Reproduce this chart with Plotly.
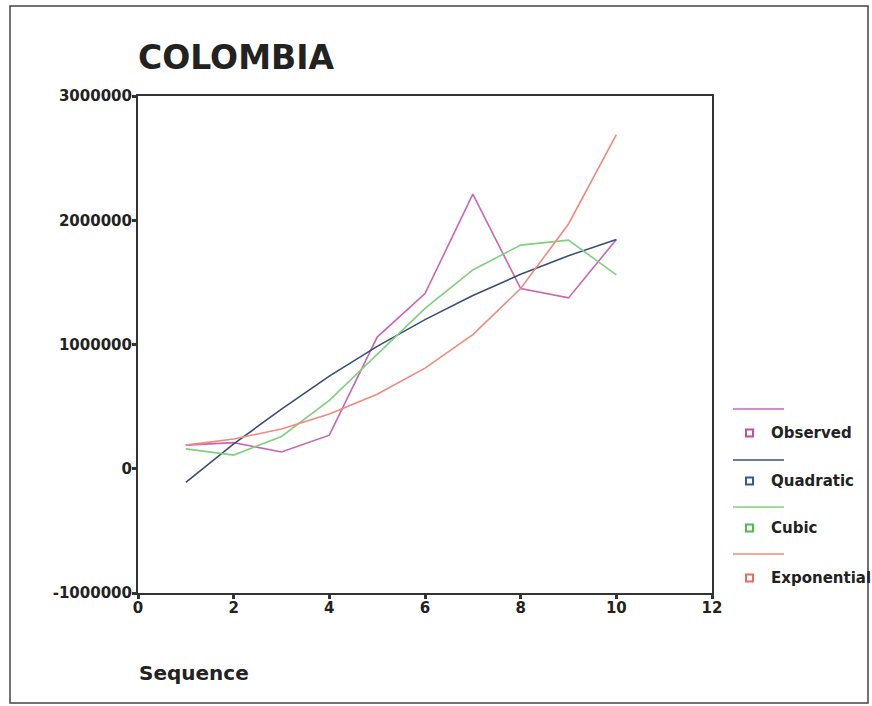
import plotly.graph_objects as go

# ---- data ----
sequence = [1, 2, 3, 4, 5, 6, 7, 8, 9, 10]
observed = [190000, 210000, 135000, 270000, 1060000, 1410000, 2210000, 1450000, 1375000, 1845000]
quadratic = [-110000, 200000, 480000, 745000, 985000, 1200000, 1395000, 1565000, 1715000, 1845000]
cubic = [160000, 110000, 260000, 550000, 920000, 1290000, 1600000, 1800000, 1840000, 1560000]
exponential = [190000, 240000, 320000, 440000, 600000, 810000, 1080000, 1450000, 1970000, 2690000]

series_names = ["Observed", "Quadratic", "Cubic", "Exponential"]
line_colors = ["#c866b4", "#3c4c78", "#7fd07f", "#f08a7a"]
marker_colors = ["#c0509a", "#2f5a9a", "#4cbc4c", "#ec6a5a"]

x_ticks = [0, 2, 4, 6, 8, 10, 12]
y_ticks = [-1000000, 0, 1000000, 2000000, 3000000]
y_ticktext = ["-1000000", "0", "1000000", "2000000", "3000000"]

W, H = 872, 706
L, R, T, B = 138, 712, 96, 593  # plot area in pixels


def px(xp):
    return (xp - L) / (R - L)


def py(yp):
    return (B - yp) / (B - T)


fig = go.Figure()
for name, vals, col in zip(series_names, [observed, quadratic, cubic, exponential], line_colors):
    fig.add_trace(go.Scatter(x=sequence, y=vals, mode="lines", name=name,
                             line=dict(color=col, width=1.6), showlegend=False))

font_bold = "DejaVu Sans"
axis_font = dict(family=font_bold, size=15, color="#222", weight="bold")

fig.update_layout(
    width=W, height=H,
    margin=dict(l=L, r=W - R, t=T, b=H - B),
    paper_bgcolor="white", plot_bgcolor="white",
    xaxis=dict(range=[0, 12], tickvals=x_ticks, ticktext=[str(v) for v in x_ticks],
               showgrid=False, zeroline=False, showline=True, mirror=True,
               linecolor="#333", linewidth=2, ticks="outside", ticklen=4, tickwidth=3,
               tickcolor="#333", tickfont=axis_font, ticklabelstandoff=-4),
    yaxis=dict(range=[-1000000, 3000000], tickvals=y_ticks, ticktext=y_ticktext,
               showgrid=False, zeroline=False, showline=True, mirror=True,
               linecolor="#333", linewidth=2, ticks="outside", ticklen=4, tickwidth=3,
               tickcolor="#333", tickfont=axis_font, ticklabelstandoff=-3),
)

shapes = []
annotations = []
# outer frame
shapes.append(dict(type="rect", xref="paper", yref="paper",
                   x0=px(10), x1=px(868), y0=py(703), y1=py(6),
                   line=dict(color="#444", width=1.5), fillcolor="rgba(0,0,0,0)"))

# title
annotations.append(dict(text="COLOMBIA", xref="paper", yref="paper", x=px(136), y=py(58),
                        xanchor="left", yanchor="middle", showarrow=False,
                        font=dict(family=font_bold, size=33, color="#222", weight="bold")))
# x axis title
annotations.append(dict(text="Sequence", xref="paper", yref="paper", x=px(137), y=py(673),
                        xanchor="left", yanchor="middle", showarrow=False,
                        font=dict(family=font_bold, size=20, color="#222", weight="bold")))

# legend (line row, then square + label row)
leg_line_y = [409, 460, 507, 554]
leg_sq_y = [433, 481, 528, 578]
for name, lc, mc, ly, sy in zip(series_names, line_colors, marker_colors, leg_line_y, leg_sq_y):
    shapes.append(dict(type="line", xref="paper", yref="paper",
                       x0=px(733), x1=px(784), y0=py(ly), y1=py(ly),
                       line=dict(color=lc, width=1.6)))
    shapes.append(dict(type="rect", xref="paper", yref="paper",
                       x0=px(746), x1=px(753), y0=py(sy + 3.5), y1=py(sy - 3.5),
                       line=dict(color=mc, width=2), fillcolor="white"))
    annotations.append(dict(text=name, xref="paper", yref="paper", x=px(769), y=py(sy),
                            xanchor="left", yanchor="middle", showarrow=False,
                            font=dict(family=font_bold, size=15, color="#222", weight="bold")))

fig.update_layout(shapes=shapes, annotations=annotations)
fig.write_html("out.html")
